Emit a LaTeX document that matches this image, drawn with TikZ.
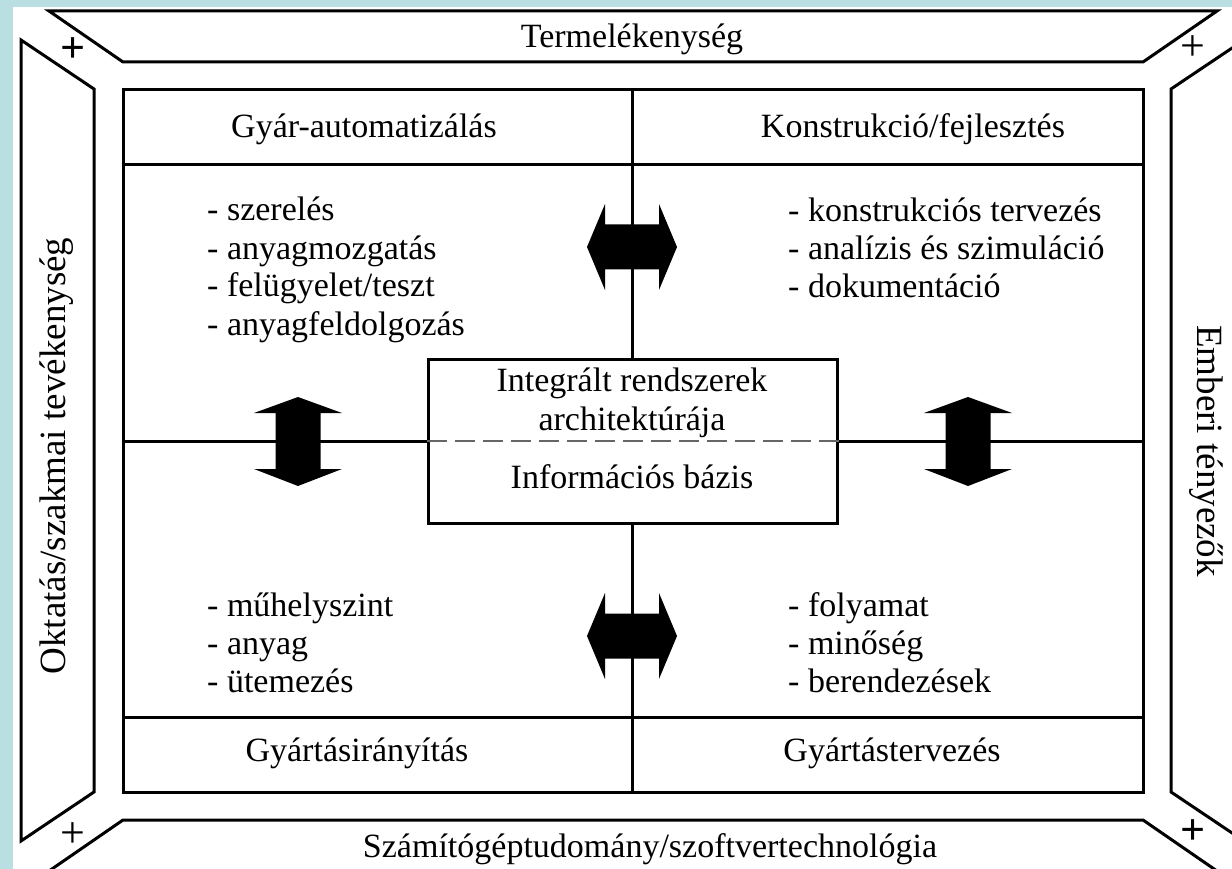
\documentclass[tikz,border=0pt]{standalone}
\usepackage{fontspec}
\setmainfont{Liberation Serif}
\definecolor{edgeblue}{HTML}{B9DFE3}
\tikzset{
  frame/.style={draw=black, line width=3pt, line join=miter},
  lbl/.style={font=\fontsize{34}{38}\selectfont, inner sep=0pt},
  sidelbl/.style={font=\fontsize{37}{40}\selectfont, inner sep=0pt},
  item/.style={lbl, anchor=base west},
  head/.style={lbl, anchor=base},
  plussign/.style={font=\fontsize{44}{48}\selectfont, inner sep=0pt},
  boldplus/.style={plussign, font=\fontsize{44}{48}\selectfont\bfseries},
  dashline/.style={draw=black!60, line width=1.3pt, dash pattern=on 20pt off 8pt},
  pics/harrow/.style={code={
    \fill[black] (-45,0) -- (-27,-43) -- (-27,-22.5) -- (27,-22.5) -- (27,-43)
      -- (45,0) -- (27,43) -- (27,22.5) -- (-27,22.5) -- (-27,43) -- cycle;}},
  pics/varrow/.style={code={
    \fill[black] (0,-44.5) -- (44,-28.5) -- (22.5,-28.5) -- (22.5,27.5) -- (44,27.5)
      -- (0,44.5) -- (-44,27.5) -- (-22.5,27.5) -- (-22.5,-28.5) -- (-44,-28.5) -- cycle;}},
}
\begin{document}
\begin{tikzpicture}[x=1pt, y=-1pt]
\useasboundingbox (0,0) rectangle (1232,869);
\fill[white] (0,0) rectangle (1232,869);
\fill[edgeblue] (0,0) rectangle (13,869);
\fill[edgeblue] (0,0) rectangle (1232,7);
\clip (0,0) rectangle (1232,869);

% outer frame of four trapezoids
\draw[frame] (49,11) -- (1217,11) -- (1143,62) -- (123,62) -- cycle;
\draw[frame] (21,40) -- (94,89) -- (94,792) -- (21,841) -- cycle;
\draw[frame] (1244,40) -- (1171,89) -- (1171,792) -- (1244,841) -- cycle;
\draw[frame] (123,820) -- (1143,820) -- (1217,871) -- (49,871) -- cycle;

\node[head] (top) at (632,48) {Termelékenység};
\node[head] (bottom) at (650,857) {Számítógéptudomány/szoftvertechnológia};
\node[sidelbl, rotate=90] (left) at (57,456) {Oktatás/szakmai tevékenység};
\node[sidelbl, rotate=-90] (right) at (1206,451) {Emberi tényezők};

\node[boldplus] (p1) at (73,50) {+};
\node[plussign] (p2) at (1193,48) {+};
\node[plussign] (p3) at (73,835) {+};
\node[boldplus] (p4) at (1193,832) {+};

% inner panel
\coordinate (pNW) at (123,90);
\coordinate (pSE) at (1143,792);
\draw[frame] (pNW) rectangle (pSE);
\draw[frame] (123,165) -- (1143,165);
\draw[frame] (123,717) -- (1143,717);

\node[frame, minimum width=409pt, minimum height=164pt, inner sep=0pt] (core) at (632.5,441) {};
\draw[frame] (core.north) -- (core.north |- pNW);
\draw[frame] (core.south) -- (core.south |- pSE);
\draw[frame] (core.west) -- (core.west -| pNW);
\draw[frame] (core.east) -- (core.east -| pSE);
\draw[dashline] (core.west) -- (core.east);

\node[head] (c1) at (632,391) {Integrált rendszerek};
\node[head] (c2) at (632,430) {architektúrája};
\node[head] (c3) at (632,488) {Információs bázis};

% quadrant titles
\node[head] (q1) at (364,138) {Gyár-automatizálás};
\node[head] (q2) at (913,138) {Konstrukció/fejlesztés};
\node[head] (q3) at (357,761) {Gyártásirányítás};
\node[head] (q4) at (892,761) {Gyártástervezés};

% quadrant lists
\node[item] (a1) at (207,221) {- szerelés};
\node[item] (a2) at (207,259) {- anyagmozgatás};
\node[item] (a3) at (207,297) {- felügyelet/teszt};
\node[item] (a4) at (207,335) {- anyagfeldolgozás};

\node[item] (b1) at (788,222) {- konstrukciós tervezés};
\node[item] (b2) at (788,260) {- analízis és szimuláció};
\node[item] (b3) at (788,298) {- dokumentáció};

\node[item] (d1) at (207,616) {- műhelyszint};
\node[item] (d2) at (207,654) {- anyag};
\node[item] (d3) at (207,692) {- ütemezés};

\node[item] (e1) at (788,616) {- folyamat};
\node[item] (e2) at (788,654) {- minőség};
\node[item] (e3) at (788,692) {- berendezések};

% exchange arrows
\pic at (632,247) {harrow};
\pic at (632,636) {harrow};
\pic at (298,441.5) {varrow};
\pic at (968,441.5) {varrow};
\end{tikzpicture}
\end{document}
